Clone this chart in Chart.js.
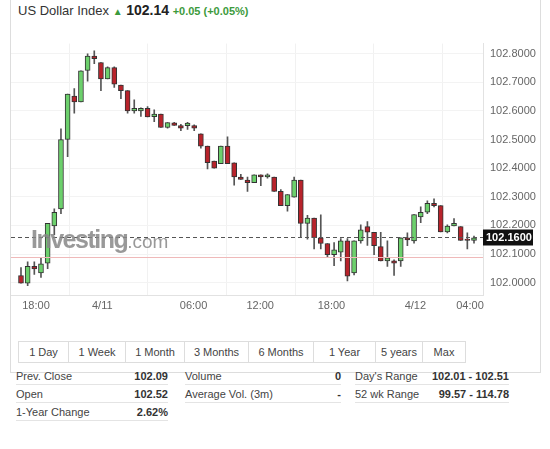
<!DOCTYPE html>
<html>
<head>
<meta charset="utf-8">
<script src="https://cdn.jsdelivr.net/npm/chart.js@4.4.0/dist/chart.umd.min.js"></script>
<style>
  body { margin: 0; width: 550px; height: 449px; background: #fff; font-family: Arial, "Liberation Sans", sans-serif; position: relative; overflow: hidden; }
  .box { position: absolute; left: 10px; top: -2px; width: 529px; height: 374px; border: 1px solid #ddd; border-top: none; }
  .title { position: absolute; left: 18px; top: 2px; font-size: 13px; color: #333; white-space: nowrap; }
  .title .up { color: #3c9a3c; font-size: 10px; }
  .title b { color: #222; font-size: 14px; }
  .title .chg { color: #3c9a3c; font-weight: bold; font-size: 11px; }
  #wrap { position: absolute; left: 11px; top: 30px; width: 528px; height: 288px; }
  .mark { position: absolute; left: 31px; top: 225px; font-size: 25px; color: #888; opacity: 0.85; letter-spacing: -1.5px; pointer-events: none; }
  .mark b { font-weight: bold; }
  .mark span { font-size: 19px; letter-spacing: 0; }
  .btns { position: absolute; left: 18px; top: 341px; display: flex; border: 1px solid #ddd; }
  .btns div { font-size: 11px; color: #444; height: 20px; line-height: 20px; text-align: center; border-left: 1px solid #ddd; }
  .btns div:first-child { border-left: none; }
  table { position: absolute; top: 367px; font-size: 11px; color: #444; border-collapse: collapse; }
  td { height: 17px; padding: 0; border-bottom: 1px solid #e4e4e4; }
  td.v { text-align: right; font-weight: bold; color: #333; }
</style>
</head>
<body>
<div class="box"></div>
<div class="title">US Dollar Index <span class="up">&#9650;</span> <b>102.14</b> <span class="chg">+0.05 (+0.05%)</span></div>
<div id="wrap"><canvas id="chart"></canvas></div>
<div class="mark"><b>Investing</b><span>.com</span></div>
<div class="btns" id="btns"></div>
<table style="left:16px;width:152px"><tr><td>Prev. Close</td><td class="v">102.09</td></tr><tr><td>Open</td><td class="v">102.52</td></tr><tr><td>1-Year Change</td><td class="v">2.62%</td></tr></table>
<table style="left:185px;width:156px"><tr><td>Volume</td><td class="v">0</td></tr><tr><td>Average Vol. (3m)</td><td class="v">-</td></tr></table>
<table style="left:355px;width:154px"><tr><td>Day's Range</td><td class="v">102.01 - 102.51</td></tr><tr><td>52 wk Range</td><td class="v">99.57 - 114.78</td></tr></table>
<script>
// OHLC candles
const opens  = [102.025,101.998,102.057,102.034,102.068,102.198,102.258,102.5,102.652,102.631,102.741,102.791,102.769,102.712,102.751,102.69,102.671,102.6,102.6,102.609,102.58,102.589,102.542,102.558,102.549,102.548,102.549,102.52,102.477,102.425,102.416,102.477,102.419,102.369,102.358,102.349,102.377,102.369,102.369,102.319,102.269,102.299,102.358,102.207,102.226,102.157,102.137,102.098,102.107,102.146,102.034,102.146,102.196,102.176,102.126,102.076,102.076,102.076,102.157,102.146,102.23,102.246,102.277,102.269,102.177,102.198,102.196,102.149,102.148];
const highs  = [102.053,102.073,102.073,102.085,102.207,102.258,102.537,102.659,102.678,102.74,102.799,102.81,102.769,102.754,102.754,102.69,102.671,102.639,102.611,102.615,102.604,102.589,102.559,102.56,102.553,102.56,102.551,102.52,102.477,102.425,102.477,102.509,102.419,102.378,102.369,102.377,102.377,102.38,102.369,102.325,102.308,102.369,102.358,102.235,102.226,102.237,102.137,102.14,102.154,102.154,102.146,102.202,102.213,102.176,102.176,102.146,102.08,102.157,102.174,102.238,102.265,102.286,102.293,102.269,102.202,102.224,102.196,102.174,102.163];
const lows   = [101.998,101.99,102.029,102.018,102.049,102.168,102.241,102.44,102.592,102.631,102.704,102.765,102.671,102.712,102.682,102.643,102.592,102.592,102.581,102.579,102.562,102.542,102.54,102.549,102.531,102.535,102.531,102.47,102.397,102.4,102.416,102.416,102.341,102.361,102.319,102.349,102.339,102.365,102.319,102.269,102.25,102.299,102.16,102.152,102.118,102.118,102.087,102.059,102.076,102.006,102.027,102.138,102.13,102.098,102.076,102.057,102.025,102.057,102.129,102.138,102.21,102.241,102.265,102.177,102.174,102.198,102.148,102.118,102.138];
const closes = [101.998,102.057,102.048,102.066,102.207,102.246,102.5,102.659,102.631,102.74,102.791,102.782,102.712,102.751,102.693,102.671,102.6,102.609,102.609,102.579,102.589,102.542,102.559,102.549,102.54,102.557,102.54,102.477,102.419,102.4,102.477,102.416,102.369,102.361,102.349,102.377,102.369,102.377,102.319,102.269,102.308,102.358,102.207,102.226,102.157,102.137,102.098,102.115,102.146,102.023,102.146,102.185,102.176,102.129,102.076,102.087,102.068,102.157,102.149,102.238,102.246,102.277,102.269,102.177,102.198,102.207,102.148,102.148,102.157];

// x tick labels and their positions in candle units
const timeLabels = ['18:00', '4/11', '06:00', '12:00', '18:00', '4/12', '04:00'];
const timePositions = [2.25, 12.2, 25.9, 35.9, 46.6, 59.2, 67.4];
const yTicks = [102.0, 102.1, 102.2, 102.3, 102.4, 102.5, 102.6, 102.7, 102.8];

const lastPrice = 102.16;
const prevClose = 102.09;
const ranges = ['1 Day', '1 Week', '1 Month', '3 Months', '6 Months', '1 Year', '5 years', 'Max'];
const rangeWidths = [49, 56, 58, 63, 64, 61, 46, 42];

const btns = document.getElementById('btns');
ranges.forEach((r, i) => {
    const d = document.createElement('div');
    d.textContent = r;
    d.style.width = rangeWidths[i] + 'px';
    btns.appendChild(d);
});

const GREEN = '#6cd06c';
const RED = '#b8232b';
const colors = opens.map((o, i) => closes[i] >= o ? GREEN : RED);

const wickData = opens.map((o, i) => ({ x: i, y: [lows[i], highs[i]] }));
const bodyData = opens.map((o, i) => {
    let lo = Math.min(o, closes[i]), hi = Math.max(o, closes[i]);
    if (hi - lo < 0.004) hi = lo + 0.004;
    return { x: i, y: [lo, hi] };
});

// Price lines and last price tag
const priceLines = {
    id: 'priceLines',
    afterDatasetsDraw(chart) {
        const { ctx, chartArea: a, scales: { y } } = chart;
        ctx.save();
        const py = Math.round(y.getPixelForValue(prevClose)) + 0.5;
        ctx.strokeStyle = '#efb9b9';
        ctx.lineWidth = 1;
        ctx.beginPath(); ctx.moveTo(a.left, py); ctx.lineTo(a.right, py); ctx.stroke();
        const ly = Math.round(y.getPixelForValue(lastPrice)) + 0.5;
        ctx.strokeStyle = '#555';
        ctx.setLineDash([4, 3]);
        ctx.beginPath(); ctx.moveTo(a.left, ly); ctx.lineTo(a.right, ly); ctx.stroke();
        ctx.setLineDash([]);
        ctx.fillStyle = '#111';
        ctx.fillRect(a.right, ly - 8, 50, 16);
        ctx.fillStyle = '#fff';
        ctx.font = 'bold 11px Arial';
        ctx.textBaseline = 'middle';
        ctx.fillText(lastPrice.toFixed(4), a.right + 3, ly + 0.5);
        ctx.restore();
    }
};

new Chart(document.getElementById('chart'), {
    type: 'bar',
    data: {
        datasets: [
            {
                data: wickData,
                backgroundColor: '#555',
                barThickness: 1,
                grouped: false,
                order: 2
            },
            {
                data: bodyData,
                backgroundColor: colors,
                borderColor: '#333',
                borderWidth: 1,
                borderSkipped: false,
                barThickness: 5,
                grouped: false,
                order: 1
            }
        ]
    },
    options: {
        responsive: true,
        maintainAspectRatio: false,
        animation: false,
        layout: { padding: 0 },
        plugins: { legend: { display: false }, tooltip: { enabled: false } },
        scales: {
            x: {
                type: 'linear',
                offset: false,
                min: -1.5,
                max: 69.35,
                afterBuildTicks: (scale) => {
                    scale.ticks = timePositions.map(v => ({ value: v }));
                },
                afterFit: (scale) => { scale.height = 23; },
                ticks: {
                    autoSkip: false,
                    maxRotation: 0,
                    color: '#666',
                    font: { size: 11, family: 'Arial' },
                    padding: 4,
                    callback: (v) => timeLabels[timePositions.indexOf(v)]
                },
                grid: { color: '#f1f1f1', drawTicks: false },
                border: { color: '#e2e2e2' }
            },
            y: {
                position: 'right',
                min: 101.957,
                max: 102.835,
                afterBuildTicks: (scale) => {
                    scale.ticks = yTicks.map(v => ({ value: v }));
                },
                afterFit: (scale) => { scale.width = 56; },
                ticks: {
                    color: '#666',
                    font: { size: 11, family: 'Arial' },
                    padding: 7,
                    callback: (v) => v.toFixed(4)
                },
                grid: { color: '#f3f3f3', drawTicks: false },
                border: { color: '#e2e2e2' }
            }
        }
    },
    plugins: [priceLines]
});
</script>
</body>
</html>
